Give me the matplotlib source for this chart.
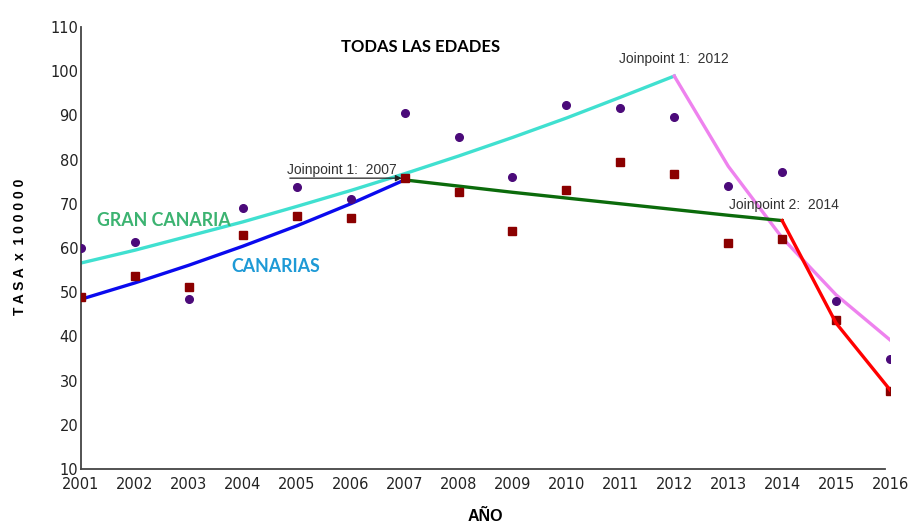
import matplotlib.pyplot as plt

# datos
years = list(range(2001, 2017))
gran_canaria = [60.0, 61.4, 48.5, 69.0, 73.8, 71.1, 90.6, 85.0, 76.1, 92.3,
                91.6, 89.7, 74.1, 77.2, 47.9, 34.9]
canarias = [49.0, 53.7, 51.2, 62.9, 67.2, 66.7, 75.8, 72.7, 63.9, 73.1,
            79.5, 76.8, 61.2, 62.0, 43.7, 27.6]

# tramos joinpoint (valores ajustados)
gc_years1 = list(range(2001, 2013))
gc_fit1 = [56.6, 59.5, 62.7, 65.9, 69.4, 73.0, 76.8, 80.8, 85.0, 89.4, 94.1, 98.9]
gc_years2 = list(range(2012, 2017))
gc_fit2 = [98.9, 78.5, 62.3, 49.4, 39.2]

ca_years1 = list(range(2001, 2008))
ca_fit1 = [48.4, 52.1, 56.1, 60.4, 65.0, 70.0, 75.4]
ca_years2 = list(range(2007, 2015))
ca_fit2 = [75.4, 74.0, 72.6, 71.3, 70.0, 68.7, 67.4, 66.2]
ca_years3 = [2014, 2015, 2016]
ca_fit3 = [66.2, 43.0, 27.9]

fig = plt.figure(figsize=(9.12, 5.26), dpi=100)
ax = fig.add_axes([0.0888, 0.1084, 0.8871, 0.8403])

ax.plot(years, gran_canaria, 'o', color='#4b0a7a', ms=5.5, zorder=3)
ax.plot(years, canarias, 's', color='#8b0000', ms=5.5, zorder=3)

lw = 2.4
ax.plot(gc_years1, gc_fit1, color='#40e0d0', lw=lw, zorder=2)
ax.plot(gc_years2, gc_fit2, color='#ee82ee', lw=lw, zorder=2)
ax.plot(ca_years1, ca_fit1, color='#0a0aee', lw=lw, zorder=2)
ax.plot(ca_years2, ca_fit2, color='#0b6b0b', lw=lw, zorder=2)
ax.plot(ca_years3, ca_fit3, color='#ff0000', lw=lw, zorder=4)

ax.set_xlim(2001, 2016)
ax.set_ylim(10, 110)
ax.set_xticks(years)
ax.set_yticks(range(10, 111, 10))
ax.tick_params(length=0, labelsize=10.5, colors='#222222', pad=6)
ax.tick_params(axis='y', pad=2)
for s in ['top', 'right']:
    ax.spines[s].set_visible(False)
for s in ['left', 'bottom']:
    ax.spines[s].set_color('#444444')
    ax.spines[s].set_linewidth(1.3)
ax.spines['bottom'].set_bounds(2001, 2015.9)

ax.set_xlabel('AÑO', fontsize=11.5, fontweight='bold', family='Liberation Sans', labelpad=12)
fig.text(0.022, 0.53, 'T A S A  x  1 0 0 0 0 0', rotation=90, fontsize=10,
         fontweight='bold', family='Liberation Sans', ha='center', va='center')

ax.text(2007.3, 105.5, 'TODAS LAS EDADES', fontsize=12, fontweight='bold',
        family='Lato', ha='center', va='center')
ax.text(2001.3, 66.2, 'GRAN CANARIA', fontsize=12.8, fontweight='bold',
        family='Lato', color='#3cb371', ha='left', va='center')
ax.text(2003.78, 55.7, 'CANARIAS', fontsize=12.8, fontweight='bold',
        family='Lato', color='#1e9ad6', ha='left', va='center')

jp = dict(fontsize=10, color='#333333', family='Liberation Sans')
ax.annotate('', xy=(2007, 75.8), xytext=(2004.82, 75.8),
            arrowprops=dict(arrowstyle='-|>', color='#222222', lw=0.9, mutation_scale=9))
ax.text(2004.82, 77.6, 'Joinpoint 1:  2007', ha='left', va='center', **jp)
ax.text(2012.0, 102.8, 'Joinpoint 1:  2012', ha='center', va='center', **jp)
ax.text(2014.03, 69.7, 'Joinpoint 2:  2014', ha='center', va='center', **jp)

fig.savefig('out.png', dpi=100)
